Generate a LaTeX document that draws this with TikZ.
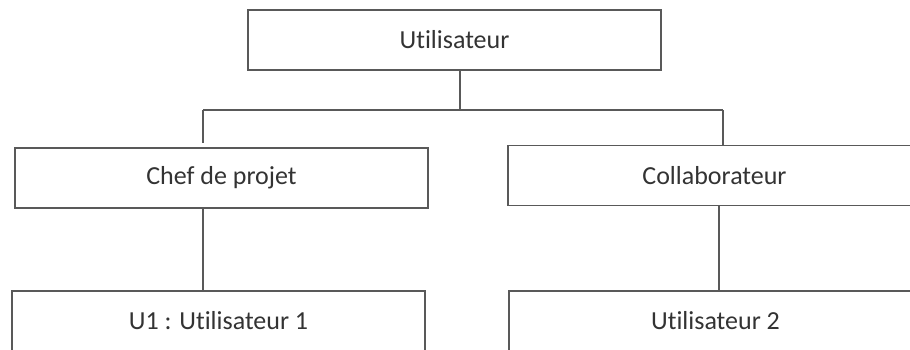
\documentclass[tikz,border=0pt]{standalone}
\usepackage{fontspec}
\setmainfont[Ligatures=NoCommon]{Carlito}
\begin{document}
\begin{tikzpicture}[x=0.5pt, y=-0.5pt,
    box/.style={draw=black!65, line width=0.8pt, minimum width=206.5pt,
      minimum height=30pt, inner sep=0pt, text=black!80,
      font=\fontsize{13}{15}\selectfont},
    link/.style={draw=black!65, line width=0.8pt}]

    \useasboundingbox (0, 0) rectangle (910, 349);
    \clip (0, 0) rectangle (910, 349);

    \node[box] (u) at (454.5, 40) {Utilisateur};
    \node[box] (c) at (221.5, 178) {Chef de projet};
    \node[box] (k) at (714.5, 175.5) {Collaborateur};
    \node[box] (a) at (218.5, 321) {U1 : Utilisateur 1};
    \node[box] (b) at (715.5, 321) {Utilisateur 2};

    \coordinate (m) at (460, 110);
    \coordinate (l) at (203, 110);
    \coordinate (r) at (723, 110);
    \coordinate (g) at (203, 143);
    \coordinate (s) at (719, 0);

    \draw [link] (u.south -| m) to (m);
    \draw [link] (l) to (r);
    \draw [link] (l) to (g);
    \draw [link] (r) to (k.north -| r);
    \draw [link] (c.south -| l) to (a.north -| l);
    \draw [link] (k.south -| s) to (b.north -| s);

\end{tikzpicture}
\end{document}
